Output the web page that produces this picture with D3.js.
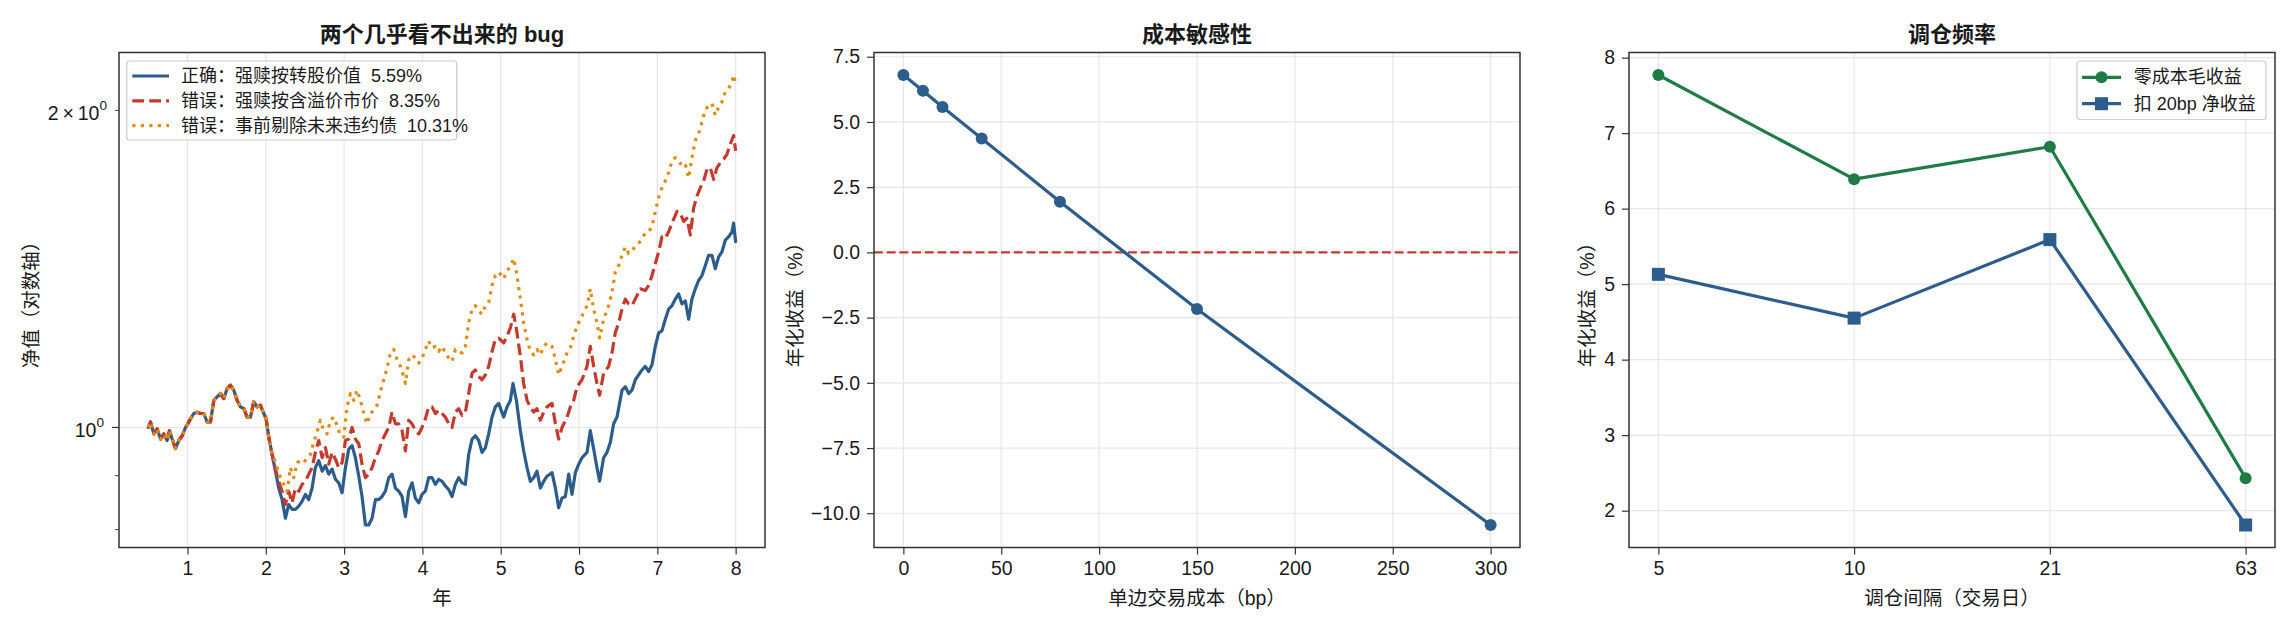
<!DOCTYPE html>
<html>
<head>
<meta charset="utf-8">
<script src="https://cdn.jsdelivr.net/npm/d3@7"></script>
<style>
  body { margin: 0; background: #ffffff; }
  svg text { font-family: "Liberation Sans", "Noto Sans CJK SC", sans-serif; fill: #1a1a1a; }
</style>
</head>
<body>
<svg id="chart" width="2296" height="630"></svg>
<script>
// ---- data ----
// panel 1: net value (log), [year, value]; the three runs coincide until ~2.1y
var navShared = [
  [0.500,1.000],[0.527,1.012],[0.570,0.986],[0.612,0.997],[0.655,0.975],[0.697,0.986],[0.740,0.972],
  [0.770,0.993],[0.804,0.975],[0.846,0.955],[0.889,0.972],[0.932,0.982],[0.974,1.000],[1.004,1.008],
  [1.038,1.019],[1.080,1.031],[1.123,1.034],[1.166,1.031],[1.208,1.031],[1.251,1.012],[1.293,1.012],
  [1.336,1.061],[1.378,1.069],[1.421,1.077],[1.463,1.065],[1.506,1.089],[1.548,1.097],[1.591,1.085],
  [1.634,1.061],[1.676,1.046],[1.719,1.042],[1.761,1.023],[1.804,1.023],[1.846,1.058],[1.889,1.046],
  [1.931,1.050],[1.974,1.031],[2.004,1.019],[2.038,0.979],[2.080,0.943]
];
var navCorrectTail = [
  [2.123,0.909],[2.165,0.876],[2.208,0.854],[2.250,0.820],[2.293,0.845],[2.335,0.836],[2.378,0.836],
  [2.421,0.842],[2.463,0.851],[2.506,0.864],[2.548,0.854],[2.591,0.876],[2.633,0.916],[2.676,0.930],
  [2.719,0.909],[2.761,0.920],[2.804,0.903],[2.846,0.913],[2.889,0.893],[2.931,0.886],[2.974,0.867],
  [3.017,0.916],[3.059,0.954],[3.102,0.961],[3.144,0.936],[3.187,0.899],[3.229,0.860],[3.272,0.808],
  [3.314,0.808],[3.357,0.820],[3.400,0.854],[3.442,0.854],[3.485,0.860],[3.527,0.870],[3.570,0.896],
  [3.612,0.903],[3.655,0.876],[3.697,0.870],[3.740,0.860],[3.783,0.823],[3.825,0.870],[3.868,0.886],
  [3.910,0.857],[3.953,0.848],[3.995,0.864],[4.038,0.870],[4.080,0.896],[4.123,0.896],[4.166,0.883],
  [4.208,0.893],[4.251,0.889],[4.293,0.880],[4.336,0.873],[4.378,0.860],[4.421,0.883],[4.463,0.896],
  [4.506,0.886],[4.548,0.883],[4.591,0.943],[4.634,0.975],[4.676,0.982],[4.719,0.972],[4.761,0.947],
  [4.804,0.957],[4.846,0.986],[4.889,1.023],[4.931,1.046],[4.974,1.054],[5.038,1.023],[5.080,1.046],
  [5.123,1.061],[5.157,1.101],[5.200,1.061],[5.251,0.993],[5.293,0.950],[5.336,0.916],[5.378,0.889],
  [5.421,0.896],[5.463,0.909],[5.506,0.876],[5.549,0.889],[5.591,0.899],[5.655,0.906],[5.698,0.876],
  [5.740,0.839],[5.783,0.857],[5.825,0.860],[5.868,0.903],[5.910,0.864],[5.953,0.906],[5.996,0.923],
  [6.038,0.936],[6.102,0.947],[6.144,0.993],[6.187,0.954],[6.229,0.916],[6.263,0.889],[6.314,0.936],
  [6.357,0.947],[6.400,0.968],[6.442,1.008],[6.485,1.023],[6.549,1.085],[6.591,1.093],[6.634,1.077],
  [6.676,1.085],[6.719,1.110],[6.761,1.122],[6.804,1.134],[6.846,1.143],[6.889,1.130],[6.932,1.147],
  [6.974,1.194],[7.017,1.230],[7.059,1.235],[7.102,1.267],[7.144,1.295],[7.187,1.305],[7.230,1.324],
  [7.272,1.339],[7.315,1.310],[7.357,1.319],[7.400,1.267],[7.442,1.324],[7.485,1.354],[7.527,1.379],
  [7.570,1.394],[7.613,1.425],[7.655,1.457],[7.698,1.457],[7.740,1.415],[7.783,1.452],[7.825,1.468],
  [7.868,1.506],[7.910,1.517],[7.953,1.534],[7.974,1.563],[8.000,1.501]
];
var navPremiumTail = [
  [2.123,0.913],[2.165,0.889],[2.208,0.870],[2.250,0.845],[2.293,0.870],[2.335,0.848],[2.378,0.876],
  [2.421,0.870],[2.463,0.883],[2.506,0.889],[2.548,0.903],[2.591,0.916],[2.633,0.947],[2.676,0.972],
  [2.719,0.936],[2.761,0.957],[2.804,0.923],[2.846,0.947],[2.889,0.933],[2.931,0.916],[2.974,0.926],
  [3.017,0.972],[3.059,0.975],[3.102,1.000],[3.144,0.975],[3.187,0.965],[3.229,0.923],[3.272,0.896],
  [3.314,0.903],[3.357,0.916],[3.400,0.936],[3.442,0.950],[3.485,0.972],[3.527,0.986],[3.570,1.000],
  [3.612,1.034],[3.655,1.008],[3.697,1.008],[3.740,0.993],[3.783,0.950],[3.825,1.016],[3.868,1.008],
  [3.910,0.993],[3.953,0.986],[3.995,1.000],[4.038,1.019],[4.080,1.046],[4.123,1.046],[4.166,1.031],
  [4.208,1.038],[4.251,1.031],[4.293,1.023],[4.336,1.008],[4.378,1.000],[4.421,1.034],[4.463,1.042],
  [4.506,1.027],[4.548,1.034],[4.591,1.077],[4.634,1.126],[4.676,1.134],[4.719,1.118],[4.761,1.110],
  [4.804,1.122],[4.846,1.143],[4.889,1.181],[4.931,1.212],[4.974,1.216],[5.038,1.203],[5.080,1.221],
  [5.123,1.243],[5.166,1.281],[5.208,1.230],[5.251,1.168],[5.293,1.101],[5.336,1.061],[5.378,1.046],
  [5.421,1.034],[5.463,1.042],[5.506,1.016],[5.549,1.034],[5.591,1.046],[5.655,1.054],[5.698,1.008],
  [5.740,0.975],[5.783,1.000],[5.847,1.023],[5.889,1.046],[5.932,1.061],[5.974,1.093],[6.038,1.110],
  [6.102,1.143],[6.144,1.194],[6.187,1.143],[6.229,1.101],[6.263,1.073],[6.314,1.126],[6.378,1.143],
  [6.421,1.177],[6.463,1.230],[6.506,1.257],[6.549,1.295],[6.591,1.324],[6.634,1.310],[6.676,1.305],
  [6.740,1.334],[6.783,1.354],[6.846,1.349],[6.889,1.364],[6.932,1.394],[6.974,1.431],[7.017,1.468],
  [7.059,1.517],[7.102,1.512],[7.144,1.534],[7.187,1.563],[7.251,1.604],[7.293,1.598],[7.336,1.569],
  [7.378,1.580],[7.421,1.523],[7.464,1.616],[7.506,1.658],[7.549,1.689],[7.591,1.714],[7.634,1.758],
  [7.676,1.765],[7.719,1.720],[7.762,1.765],[7.804,1.784],[7.847,1.798],[7.889,1.817],[7.932,1.858],
  [7.974,1.893],[8.000,1.831]
];
var navLookaheadTail = [
  [2.102,0.936],[2.144,0.916],[2.187,0.896],[2.229,0.883],[2.272,0.870],[2.314,0.916],[2.357,0.896],
  [2.399,0.926],[2.442,0.930],[2.484,0.926],[2.527,0.936],[2.570,0.943],[2.612,0.968],[2.655,0.990],
  [2.697,1.016],[2.740,0.993],[2.782,0.986],[2.825,1.016],[2.868,1.023],[2.910,1.004],[2.953,0.982],
  [2.995,0.979],[3.038,1.046],[3.080,1.077],[3.123,1.061],[3.165,1.085],[3.208,1.061],[3.251,1.031],
  [3.293,1.008],[3.336,1.031],[3.378,1.038],[3.421,1.050],[3.463,1.081],[3.506,1.110],[3.548,1.138],
  [3.591,1.177],[3.634,1.186],[3.676,1.160],[3.719,1.143],[3.761,1.118],[3.783,1.101],[3.825,1.160],
  [3.868,1.172],[3.910,1.164],[3.953,1.151],[3.995,1.164],[4.038,1.186],[4.080,1.208],[4.123,1.190],
  [4.166,1.194],[4.208,1.181],[4.251,1.194],[4.293,1.177],[4.336,1.164],[4.378,1.155],[4.421,1.186],
  [4.463,1.181],[4.506,1.177],[4.548,1.194],[4.591,1.257],[4.634,1.295],[4.676,1.305],[4.719,1.290],
  [4.761,1.281],[4.804,1.305],[4.846,1.314],[4.889,1.364],[4.931,1.394],[4.974,1.405],[5.038,1.384],
  [5.080,1.410],[5.123,1.420],[5.166,1.447],[5.208,1.394],[5.251,1.324],[5.293,1.257],[5.336,1.212],
  [5.378,1.181],[5.421,1.172],[5.463,1.186],[5.506,1.172],[5.549,1.194],[5.591,1.203],[5.655,1.194],
  [5.698,1.160],[5.740,1.122],[5.783,1.143],[5.847,1.177],[5.889,1.190],[5.932,1.221],[5.974,1.248],
  [6.038,1.276],[6.102,1.305],[6.144,1.354],[6.187,1.295],[6.229,1.257],[6.263,1.216],[6.314,1.267],
  [6.378,1.305],[6.421,1.344],[6.463,1.405],[6.506,1.425],[6.549,1.457],[6.591,1.484],[6.634,1.463],
  [6.698,1.479],[6.761,1.495],[6.804,1.512],[6.846,1.529],[6.889,1.534],[6.932,1.551],[6.974,1.604],
  [7.017,1.652],[7.059,1.689],[7.102,1.714],[7.144,1.746],[7.187,1.791],[7.230,1.804],[7.272,1.791],
  [7.315,1.771],[7.357,1.778],[7.400,1.726],[7.442,1.804],[7.485,1.872],[7.527,1.900],[7.570,1.950],
  [7.613,2.001],[7.655,2.023],[7.698,2.030],[7.740,1.979],[7.783,2.015],[7.825,2.038],[7.868,2.083],
  [7.910,2.098],[7.953,2.129],[7.974,2.161],[8.000,2.121]
];
var navNames = ['正确：强赎按转股价值  5.59%', '错误：强赎按含溢价市价  8.35%', '错误：事前剔除未来违约债  10.31%'];
var yearTicks = [1, 2, 3, 4, 5, 6, 7, 8];

// panel 2: cost sensitivity
var costBp = [0, 10, 20, 40, 80, 150, 300];
var costRet = [6.80, 6.20, 5.57, 4.37, 1.94, -2.17, -10.45];
var costTicks = [0, 50, 100, 150, 200, 250, 300];
var costRetTicks = [-10, -7.5, -5, -2.5, 0, 2.5, 5, 7.5];

// panel 3: rebalance frequency
var rebalDays = ['5', '10', '21', '63'];
var grossRet = [7.77, 6.39, 6.82, 2.43];
var netRet = [5.13, 4.55, 5.59, 1.81];
var freqTicks = [2, 3, 4, 5, 6, 7, 8];
var freqNames = ['零成本毛收益', '扣 20bp 净收益'];

// ---- look ----
var BLUE = '#2c5d8c', RED = '#c43b2d', ORANGE = '#de8d0f', GREEN = '#1f7c45';
var INK = '#1a1a1a', SPINE = '#333333', GRID = '#e6e6e6';
var FS_TICK = 19.5, FS_LABEL = 19.5, FS_TITLE = 22, FS_LEGEND = 18;
var LW = 3.2;

var svg = d3.select('#chart');
var boxes = [
  {left: 119, right: 765, top: 52.5, bottom: 547.5},
  {left: 874, right: 1520, top: 52.5, bottom: 547.5},
  {left: 1629, right: 2275, top: 52.5, bottom: 547.5}
];

// matplotlib-style 5% margin
function padded(lo, hi) {
  var s = hi - lo;
  return [lo - 0.05 * s, hi + 0.05 * s];
}

function clipFor(id, b) {
  svg.append('clipPath').attr('id', id).append('rect')
    .attr('x', b.left).attr('y', b.top)
    .attr('width', b.right - b.left).attr('height', b.bottom - b.top);
  return 'url(#' + id + ')';
}

function frame(b) {
  svg.append('rect')
    .attr('x', b.left).attr('y', b.top)
    .attr('width', b.right - b.left).attr('height', b.bottom - b.top)
    .attr('fill', 'none').attr('stroke', SPINE).attr('stroke-width', 1.5);
}

function grid(b, xs, ys) {
  var g = svg.append('g');
  g.selectAll('line.gx').data(xs).enter().append('line')
    .attr('x1', function (d) { return d; }).attr('x2', function (d) { return d; })
    .attr('y1', b.top).attr('y2', b.bottom)
    .attr('stroke', GRID).attr('stroke-width', 1.2);
  g.selectAll('line.gy').data(ys).enter().append('line')
    .attr('y1', function (d) { return d; }).attr('y2', function (d) { return d; })
    .attr('x1', b.left).attr('x2', b.right)
    .attr('stroke', GRID).attr('stroke-width', 1.2);
}

function styleAxis(g) {
  g.select('.domain').remove();
  g.attr('font-size', null).attr('font-family', null);
  g.selectAll('.tick line').attr('stroke', SPINE).attr('stroke-width', 1.2);
  g.selectAll('.tick text').attr('fill', INK).style('font-size', FS_TICK + 'px');
}

function titles(b, title, xlab, ylab, ylabX) {
  var cx = (b.left + b.right) / 2, cy = (b.top + b.bottom) / 2;
  svg.append('text').attr('x', cx).attr('y', 41.5)
    .attr('text-anchor', 'middle').style('font-size', FS_TITLE + 'px').style('font-weight', 'bold')
    .text(title);
  svg.append('text').attr('x', cx).attr('y', 598)
    .attr('text-anchor', 'middle').attr('dominant-baseline', 'central')
    .style('font-size', FS_LABEL + 'px').text(xlab);
  svg.append('text').attr('transform', 'translate(' + ylabX + ',' + cy + ') rotate(-90)')
    .attr('text-anchor', 'middle').attr('dominant-baseline', 'central')
    .style('font-size', FS_LABEL + 'px').text(ylab);
}

// ---- panel 1 ----
function drawNav() {
  var b = boxes[0];
  var series = [
    navShared.concat(navCorrectTail),
    navShared.concat(navPremiumTail),
    navShared.concat(navLookaheadTail)
  ];
  var styles = [
    {color: BLUE, dash: null, cap: 'round'},
    {color: RED, dash: '11.8,5.1', cap: 'butt'},
    {color: ORANGE, dash: '3.2,5.3', cap: 'butt'}
  ];
  var all = d3.merge(series);
  var x = d3.scaleLinear().domain(padded(0.5, 8.0)).range([b.left, b.right]);
  var lg = padded(Math.log10(d3.min(all, function (d) { return d[1]; })),
                  Math.log10(d3.max(all, function (d) { return d[1]; })));
  var y = d3.scaleLog().domain([Math.pow(10, lg[0]), Math.pow(10, lg[1])]).range([b.bottom, b.top]);

  grid(b, yearTicks.map(x), [y(1)]);

  var line = d3.line()
    .x(function (d) { return x(d[0]); })
    .y(function (d) { return y(d[1]); });
  var g = svg.append('g').attr('clip-path', clipFor('clipNav', b));
  series.forEach(function (s, i) {
    g.append('path').datum(s)
      .attr('d', line)
      .attr('fill', 'none')
      .attr('stroke', styles[i].color)
      .attr('stroke-width', LW)
      .attr('stroke-linejoin', 'round')
      .attr('stroke-linecap', styles[i].cap)
      .attr('stroke-dasharray', styles[i].dash);
  });

  frame(b);

  var ax = svg.append('g').attr('transform', 'translate(0,' + b.bottom + ')')
    .call(d3.axisBottom(x).tickValues(yearTicks).tickFormat(d3.format('d')).tickSize(7).tickPadding(7));
  styleAxis(ax);

  // log axis: major 1, minor 0.8 / 0.9 / 2
  var yt = [{v: 0.8, len: 4}, {v: 0.9, len: 4}, {v: 1, len: 7, base: '10', mant: null},
            {v: 2, len: 4, base: '10', mant: '2'}];
  var ay = svg.append('g');
  ay.selectAll('line').data(yt).enter().append('line')
    .attr('x1', function (d) { return b.left - d.len; }).attr('x2', b.left)
    .attr('y1', function (d) { return y(d.v); }).attr('y2', function (d) { return y(d.v); })
    .attr('stroke', SPINE).attr('stroke-width', function (d) { return d.len === 7 ? 1.2 : 0.9; });
  yt.filter(function (d) { return d.base; }).forEach(function (d) {
    var t = ay.append('text')
      .attr('x', b.left - d.len - 8)
      .attr('y', y(d.v) + 3)
      .attr('text-anchor', 'end').attr('dominant-baseline', 'central')
      .style('font-size', FS_TICK + 'px');
    if (d.mant) t.append('tspan').text(d.mant + '\u2009\u00d7\u2009');
    t.append('tspan').text(d.base);
    t.append('tspan').attr('dy', -8).style('font-size', (FS_TICK * 0.7) + 'px').text('0');
  });

  titles(b, '两个几乎看不出来的 bug', '年', '净值（对数轴）', 31);

  // legend
  var lx = b.left + 7.7, ly = b.top + 8.5;
  var leg = svg.append('g');
  leg.append('rect').attr('x', lx).attr('y', ly).attr('width', 330).attr('height', 79).attr('rx', 3)
    .attr('fill', '#ffffff').attr('fill-opacity', 0.8).attr('stroke', '#cccccc').attr('stroke-width', 1.2);
  navNames.forEach(function (name, i) {
    var ry = ly + 15 + i * 24.8;
    leg.append('line').attr('x1', lx + 5.6).attr('x2', lx + 42.3).attr('y1', ry).attr('y2', ry)
      .attr('stroke', styles[i].color).attr('stroke-width', LW)
      .attr('stroke-linecap', styles[i].cap === 'round' ? 'butt' : 'butt')
      .attr('stroke-dasharray', styles[i].dash);
    leg.append('text').attr('x', lx + 54.3).attr('y', ry)
      .attr('dominant-baseline', 'central').style('font-size', FS_LEGEND + 'px')
      .style('white-space', 'pre').text(name);
  });
}

// ---- panel 2 ----
function drawCost() {
  var b = boxes[1];
  var x = d3.scaleLinear().domain(padded(d3.min(costBp), d3.max(costBp))).range([b.left, b.right]);
  var y = d3.scaleLinear().domain(padded(d3.min(costRet), d3.max(costRet))).range([b.bottom, b.top]);
  grid(b, costTicks.map(x), costRetTicks.map(y));

  var g = svg.append('g').attr('clip-path', clipFor('clipCost', b));
  g.append('line').attr('x1', b.left).attr('x2', b.right).attr('y1', y(0)).attr('y2', y(0))
    .attr('stroke', RED).attr('stroke-width', 2.4).attr('stroke-dasharray', '8.9,3.8');
  var pts = costBp.map(function (c, i) { return [c, costRet[i]]; });
  g.append('path').datum(pts)
    .attr('d', d3.line().x(function (d) { return x(d[0]); }).y(function (d) { return y(d[1]); }))
    .attr('fill', 'none').attr('stroke', BLUE).attr('stroke-width', LW).attr('stroke-linejoin', 'round');
  g.selectAll('circle').data(pts).enter().append('circle')
    .attr('cx', function (d) { return x(d[0]); }).attr('cy', function (d) { return y(d[1]); })
    .attr('r', 6).attr('fill', BLUE);

  frame(b);
  var ax = svg.append('g').attr('transform', 'translate(0,' + b.bottom + ')')
    .call(d3.axisBottom(x).tickValues(costTicks).tickFormat(d3.format('d')).tickSize(7).tickPadding(7));
  styleAxis(ax);
  var ay = svg.append('g').attr('transform', 'translate(' + b.left + ',0)')
    .call(d3.axisLeft(y).tickValues(costRetTicks).tickFormat(d3.format('.1f')).tickSize(7).tickPadding(7));
  styleAxis(ay);

  titles(b, '成本敏感性', '单边交易成本（bp）', '年化收益（%）', 795);
}

// ---- panel 3 ----
function drawFreq() {
  var b = boxes[2];
  var x = d3.scalePoint().domain(rebalDays).range([b.left, b.right]).padding(0.15);
  var all = grossRet.concat(netRet);
  var y = d3.scaleLinear().domain(padded(d3.min(all), d3.max(all))).range([b.bottom, b.top]);
  grid(b, rebalDays.map(x), freqTicks.map(y));

  var line = d3.line().x(function (d) { return x(d[0]); }).y(function (d) { return y(d[1]); });
  var gross = rebalDays.map(function (k, i) { return [k, grossRet[i]]; });
  var net = rebalDays.map(function (k, i) { return [k, netRet[i]]; });
  var g = svg.append('g').attr('clip-path', clipFor('clipFreq', b));
  g.append('path').datum(gross).attr('d', line)
    .attr('fill', 'none').attr('stroke', GREEN).attr('stroke-width', LW).attr('stroke-linejoin', 'round');
  g.selectAll('circle').data(gross).enter().append('circle')
    .attr('cx', function (d) { return x(d[0]); }).attr('cy', function (d) { return y(d[1]); })
    .attr('r', 6).attr('fill', GREEN);
  g.append('path').datum(net).attr('d', line)
    .attr('fill', 'none').attr('stroke', BLUE).attr('stroke-width', LW).attr('stroke-linejoin', 'round');
  g.selectAll('rect').data(net).enter().append('rect')
    .attr('x', function (d) { return x(d[0]) - 6.5; }).attr('y', function (d) { return y(d[1]) - 6.5; })
    .attr('width', 13).attr('height', 13).attr('fill', BLUE);

  frame(b);
  var ax = svg.append('g').attr('transform', 'translate(0,' + b.bottom + ')')
    .call(d3.axisBottom(x).tickSize(7).tickPadding(7));
  styleAxis(ax);
  var ay = svg.append('g').attr('transform', 'translate(' + b.left + ',0)')
    .call(d3.axisLeft(y).tickValues(freqTicks).tickFormat(d3.format('d')).tickSize(7).tickPadding(7));
  styleAxis(ay);

  titles(b, '调仓频率', '调仓间隔（交易日）', '年化收益（%）', 1587);

  // legend
  var lx = b.right - 198, ly = b.top + 8.5;
  var leg = svg.append('g');
  leg.append('rect').attr('x', lx).attr('y', ly).attr('width', 189).attr('height', 58.5).attr('rx', 3)
    .attr('fill', '#ffffff').attr('fill-opacity', 0.8).attr('stroke', '#cccccc').attr('stroke-width', 1.2);
  var cols = [GREEN, BLUE];
  freqNames.forEach(function (name, i) {
    var ry = ly + 16.3 + i * 26.4;
    var hx = lx + 24.5;
    leg.append('line').attr('x1', lx + 5).attr('x2', lx + 44).attr('y1', ry).attr('y2', ry)
      .attr('stroke', cols[i]).attr('stroke-width', LW);
    if (i === 0) {
      leg.append('circle').attr('cx', hx).attr('cy', ry).attr('r', 6).attr('fill', cols[i]);
    } else {
      leg.append('rect').attr('x', hx - 6.5).attr('y', ry - 6.5).attr('width', 13).attr('height', 13).attr('fill', cols[i]);
    }
    leg.append('text').attr('x', lx + 56.7).attr('y', ry)
      .attr('dominant-baseline', 'central').style('font-size', FS_LEGEND + 'px')
      .style('white-space', 'pre').text(name);
  });
}

drawNav();
drawCost();
drawFreq();
</script>
</body>
</html>
